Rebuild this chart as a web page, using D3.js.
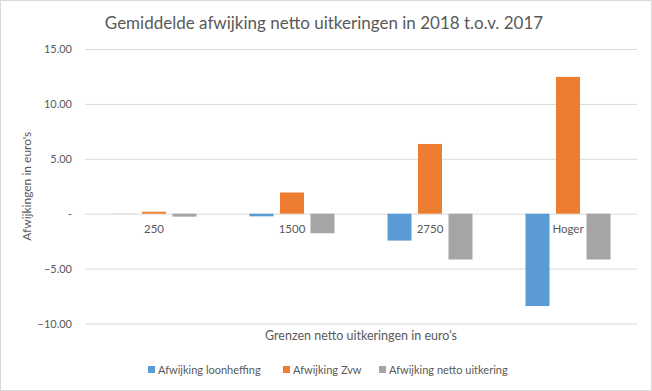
<!DOCTYPE html>
<html>
<head>
<meta charset="utf-8">
<script src="https://cdn.jsdelivr.net/npm/d3@7"></script>
<style>
  body { margin: 0; background: #fff; }
  text { font-family: Lato, "Open Sans", sans-serif; fill: #595959; }
</style>
</head>
<body>
<div id="chart"></div>
<script>
const categories = ['250', '1500', '2750', 'Hoger'];
const seriesNames = ['Afwijking loonheffing', 'Afwijking Zvw', 'Afwijking netto uitkering'];
const loonheffing = [-0.01, -0.24, -2.45, -8.41];
const zvw = [0.18, 1.93, 6.35, 12.46];
const nettoUitkering = [-0.27, -1.78, -4.17, -4.17];
const yTicks = [-10, -5, 0, 5, 10, 15];
const colors = ['#5B9BD5', '#ED7D31', '#A5A5A5'];

const WIDTH = 652, HEIGHT = 391;
const margin = {top: 49, right: 15, bottom: 67, left: 85};

const values = [loonheffing, zvw, nettoUitkering];

const svg = d3.select('#chart').append('svg')
    .attr('width', WIDTH)
    .attr('height', HEIGHT);

// outer frame
svg.append('rect')
    .attr('x', 0.5).attr('y', 0.5)
    .attr('width', WIDTH - 1).attr('height', HEIGHT - 1)
    .attr('fill', '#fff')
    .attr('stroke', '#d9d9d9');

const x0 = d3.scaleBand()
    .domain(categories)
    .range([margin.left, WIDTH - margin.right]);

const x1 = d3.scaleBand()
    .domain(seriesNames)
    .range([26.5, x0.bandwidth() - 26.5])
    .paddingInner(0.213);

const y = d3.scaleLinear()
    .domain([-10, 15])
    .range([HEIGHT - margin.bottom - 0.5, margin.top]);

// gridlines
const yAxis = d3.axisLeft(y)
    .tickValues(yTicks)
    .tickSize(-(WIDTH - margin.left - margin.right))
    .tickPadding(13)
    .tickFormat(d => d === 0 ? '-' : d3.format('.2f')(d));

const gy = svg.append('g')
    .attr('transform', `translate(${margin.left},0)`)
    .call(yAxis);
gy.select('.domain').remove();
gy.selectAll('line').attr('stroke', '#d9d9d9');
gy.selectAll('text').attr('font-size', 11).attr('fill', '#595959');

// bars
const groups = svg.append('g').selectAll('g')
    .data(categories)
    .join('g')
    .attr('transform', d => `translate(${x0(d)},0)`);

groups.selectAll('rect')
    .data((c, i) => seriesNames.map((s, j) => ({series: s, value: values[j][i], color: colors[j]})))
    .join('rect')
    .attr('x', d => x1(d.series))
    .attr('width', x1.bandwidth())
    .attr('y', d => y(Math.max(0, d.value)))
    .attr('height', d => Math.abs(y(d.value) - y(0)))
    .attr('fill', d => d.color);

// category labels next to the zero line
svg.append('g').selectAll('text')
    .data(categories)
    .join('text')
    .attr('x', d => x0(d) + x0.bandwidth() / 2)
    .attr('y', y(0) + 19)
    .attr('text-anchor', 'middle')
    .attr('font-size', 11.5)
    .text(d => d);

// title
svg.append('text')
    .attr('x', 324)
    .attr('y', 29)
    .attr('text-anchor', 'middle')
    .attr('font-size', 17)
    .text('Gemiddelde afwijking netto uitkeringen in 2018 t.o.v. 2017');

// axis titles
svg.append('text')
    .attr('transform', `translate(31,${(y(15) + y(-10)) / 2}) rotate(-90)`)
    .attr('text-anchor', 'middle')
    .attr('font-size', 12)
    .text("Afwijkingen in euro's");

svg.append('text')
    .attr('x', (margin.left + WIDTH - margin.right) / 2)
    .attr('y', 340)
    .attr('text-anchor', 'middle')
    .attr('font-size', 12.5)
    .text("Grenzen netto uitkeringen in euro's");

// legend
const legendX = [148, 283, 379];
const legend = svg.append('g').selectAll('g')
    .data(seriesNames)
    .join('g')
    .attr('transform', (d, i) => `translate(${legendX[i]},370)`);

legend.append('rect')
    .attr('x', 0).attr('y', -4)
    .attr('width', 7).attr('height', 7)
    .attr('fill', (d, i) => colors[i]);

legend.append('text')
    .attr('x', 10)
    .attr('y', 4)
    .attr('font-size', 11)
    .text(d => d);
</script>
</body>
</html>
